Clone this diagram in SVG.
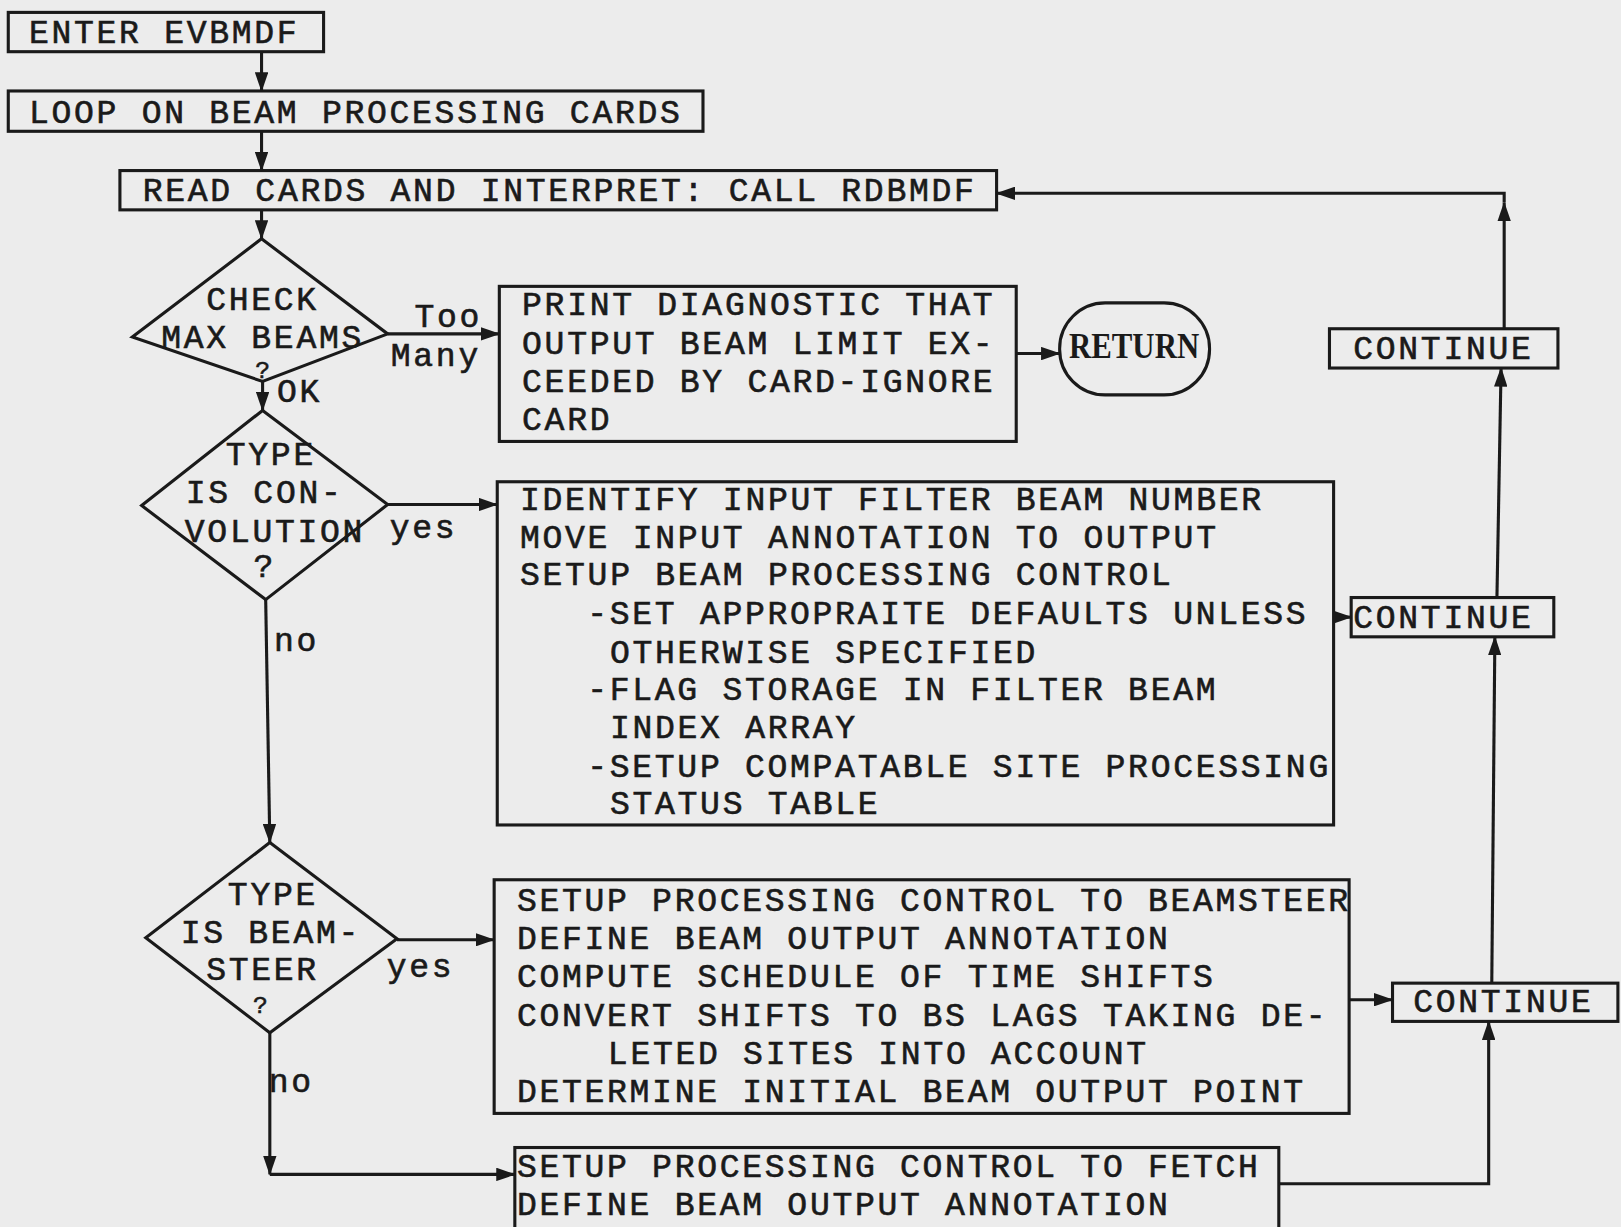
<svg xmlns="http://www.w3.org/2000/svg" width="1621" height="1227" viewBox="0 0 1621 1227">
<style>
.t{font-family:"Liberation Mono","DejaVu Sans Mono",monospace;font-size:32px;letter-spacing:2.6px;fill:#1a1a1a;stroke:#1a1a1a;stroke-width:0.6}
.q{font-family:"Liberation Mono","DejaVu Sans Mono",monospace;font-size:24px;fill:#1a1a1a;stroke:#1a1a1a;stroke-width:0.5}
.box{fill:none;stroke:#1a1a1a;stroke-width:3}
.c{fill:none;stroke:#1a1a1a;stroke-width:3;marker-end:url(#ah)}
.r{font-family:"Liberation Serif",serif;font-weight:bold;font-size:34px;fill:#1a1a1a}
</style>
<defs>
<marker id="ah" viewBox="0 0 19 13" refX="18" refY="6.5" markerWidth="19" markerHeight="13" markerUnits="userSpaceOnUse" orient="auto">
<path d="M0,0 L19,6.5 L0,13 Z" fill="#1a1a1a"/>
</marker>
</defs>
<rect width="1621" height="1227" fill="#ececec"/>
<g transform="scale(1.0338)">
<g id="enter">
<rect class="box" x="8" y="12" width="305" height="38"/>
<text class="t" x="28" y="42">ENTER EVBMDF</text>
</g>
<g id="loop">
<rect class="box" x="8" y="88" width="672" height="39"/>
<text class="t" x="28" y="119">LOOP ON BEAM PROCESSING CARDS</text>
</g>
<g id="read">
<rect class="box" x="116" y="165" width="848" height="38"/>
<text class="t" x="138" y="194">READ CARDS AND INTERPRET: CALL RDBMDF</text>
</g>
<g id="check">
<polygon class="box" points="253,231 375,323 254,369 128,326"/>
<text class="t" x="254" y="300" text-anchor="middle">CHECK</text>
<text class="t" x="254" y="337" text-anchor="middle">MAX BEAMS</text>
<text class="q" x="254" y="366" text-anchor="middle">?</text>
</g>
<g id="convolution">
<polygon class="box" points="254,397 375,488 257,580 137,489"/>
<text class="t" x="262" y="450" text-anchor="middle">TYPE</text>
<text class="t" x="256" y="487" text-anchor="middle">IS CON-</text>
<text class="t" x="266" y="524" text-anchor="middle">VOLUTION</text>
<text class="t" x="256" y="558" text-anchor="middle">?</text>
</g>
<g id="beamsteer">
<polygon class="box" points="261,815 384,908 261,999 141,907"/>
<text class="t" x="264" y="875" text-anchor="middle">TYPE</text>
<text class="t" x="262" y="912" text-anchor="middle">IS BEAM-</text>
<text class="t" x="254" y="948" text-anchor="middle">STEER</text>
<text class="q" x="252" y="980" text-anchor="middle">?</text>
</g>
<g id="print">
<rect class="box" x="483" y="277" width="500" height="150"/>
<text class="t" x="505" y="305">PRINT DIAGNOSTIC THAT</text>
<text class="t" x="505" y="342">OUTPUT BEAM LIMIT EX-</text>
<text class="t" x="505" y="379">CEEDED BY CARD-IGNORE</text>
<text class="t" x="505" y="416">CARD</text>
</g>
<g id="return">
<rect class="box" x="1025" y="293" width="145" height="89" rx="44" ry="44"/>
<text class="r" x="1097" y="346" text-anchor="middle" textLength="126" lengthAdjust="spacingAndGlyphs">RETURN</text>
</g>
<g id="identify">
<rect class="box" x="481" y="466" width="809" height="332"/>
<text class="t" x="503" y="493">IDENTIFY INPUT FILTER BEAM NUMBER</text>
<text class="t" x="503" y="530">MOVE INPUT ANNOTATION TO OUTPUT</text>
<text class="t" x="503" y="566">SETUP BEAM PROCESSING CONTROL</text>
<text class="t" x="568" y="604">-SET APPROPRAITE DEFAULTS UNLESS</text>
<text class="t" x="590" y="641">OTHERWISE SPECIFIED</text>
<text class="t" x="568" y="677">-FLAG STORAGE IN FILTER BEAM</text>
<text class="t" x="590" y="714">INDEX ARRAY</text>
<text class="t" x="568" y="752">-SETUP COMPATABLE SITE PROCESSING</text>
<text class="t" x="590" y="787">STATUS TABLE</text>
</g>
<g id="setup-beamsteer">
<rect class="box" x="478" y="851" width="827" height="226"/>
<text class="t" x="500" y="881">SETUP PROCESSING CONTROL TO BEAMSTEER</text>
<text class="t" x="500" y="918">DEFINE BEAM OUTPUT ANNOTATION</text>
<text class="t" x="500" y="955">COMPUTE SCHEDULE OF TIME SHIFTS</text>
<text class="t" x="500" y="992">CONVERT SHIFTS TO BS LAGS TAKING DE-</text>
<text class="t" x="588" y="1029">LETED SITES INTO ACCOUNT</text>
<text class="t" x="500" y="1066">DETERMINE INITIAL BEAM OUTPUT POINT</text>
</g>
<g id="setup-fetch">
<rect class="box" x="498" y="1110" width="739" height="84"/>
<text class="t" x="500" y="1139">SETUP PROCESSING CONTROL TO FETCH</text>
<text class="t" x="500" y="1175">DEFINE BEAM OUTPUT ANNOTATION</text>
</g>
<g id="continue1">
<rect class="box" x="1286" y="318" width="221" height="38"/>
<text class="t" x="1309" y="347">CONTINUE</text>
</g>
<g id="continue2">
<rect class="box" x="1307" y="578" width="196" height="38"/>
<text class="t" x="1309" y="607">CONTINUE</text>
</g>
<g id="continue3">
<rect class="box" x="1347" y="951" width="218" height="37"/>
<text class="t" x="1367" y="979">CONTINUE</text>
</g>
<g id="connectors">
<path class="c" d="M253,50 V88"/>
<path class="c" d="M253,127 V165"/>
<path class="c" d="M253,203 V231"/>
<path class="c" d="M375,323 H483"/>
<path class="c" d="M254,369 V397"/>
<path class="c" d="M375,488 H481"/>
<path class="c" d="M257,580 L261,815"/>
<path class="c" d="M384,909 H478"/>
<path class="c" d="M261,999 V1136"/>
<path class="c" d="M261,1136 H498"/>
<path class="c" d="M983,342 H1025"/>
<path class="c" d="M1290,597 H1307"/>
<path class="c" d="M1305,967 H1347"/>
<path class="c" d="M1237,1145 H1440 V988"/>
<path class="c" d="M1443,951 L1446,616"/>
<path class="c" d="M1448,578 L1452,356"/>
<path class="c" d="M1455,318 V196"/>
<path class="c" d="M1455,196 V187 H964"/>
<text class="t" x="401" y="316">Too</text>
<text class="t" x="378" y="354">Many</text>
<text class="t" x="268" y="389">OK</text>
<text class="t" x="377" y="520">yes</text>
<text class="t" x="265" y="630">no</text>
<text class="t" x="374" y="945">yes</text>
<text class="t" x="260" y="1056">no</text>
</g>
</g>
</svg>
